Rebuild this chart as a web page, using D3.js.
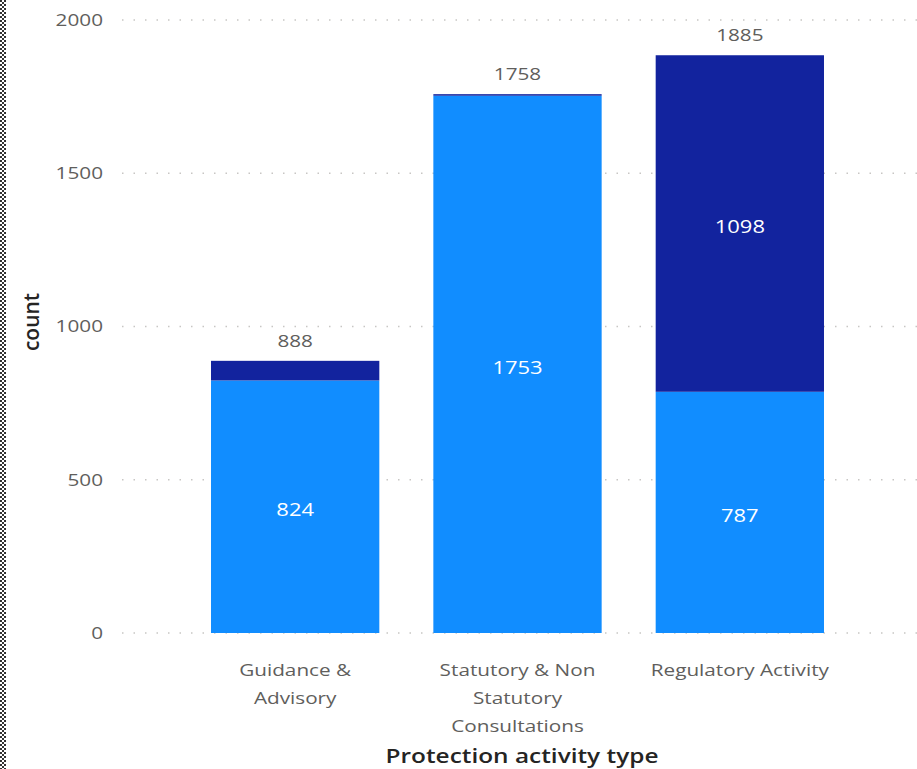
<!DOCTYPE html>
<html><head><meta charset="utf-8">
<script src="https://cdn.jsdelivr.net/npm/d3@7"></script>
<style>body{margin:0;background:#fff;} svg{display:block;}</style>
</head><body>
<svg id="c" width="917" height="769"></svg>
<script>
const categories = [["Guidance &","Advisory"],["Statutory & Non","Statutory","Consultations"],["Regulatory Activity"]];
const catKeys = ["Guidance & Advisory","Statutory & Non Statutory Consultations","Regulatory Activity"];
const seriesLight = [824, 1753, 787];
const seriesDark = [64, 5, 1098];
const yTicks = [0, 500, 1000, 1500, 2000];
const colors = ["#118DFF", "#12239E"];

const SX = 1.22;
const svg = d3.select("#c");
const font = "'Open Sans', 'Segoe UI', sans-serif";
const x = d3.scaleBand().domain(catKeys).range([184, 851]).paddingInner(0.243).paddingOuter(0.1215);
const y = d3.scaleLinear().domain([0, 2000]).range([633, 20]);
const place = (px, py) => `translate(${px},${py}) scale(${SX},1)`;

// left border
[1,3,5].forEach((bx,i)=>{
  svg.append("line").attr("x1",bx).attr("x2",bx).attr("y1",0).attr("y2",769)
    .attr("stroke","#333").attr("stroke-width",2).attr("stroke-dasharray","2,2")
    .attr("stroke-dashoffset", i===1 ? 2 : 0);
});

// y axis labels
const yAxis = d3.axisLeft(y).tickValues(yTicks).tickSize(0).tickPadding(0).tickFormat(d3.format("d"));
const gy = svg.append("g").call(yAxis);
gy.select(".domain").remove();
gy.selectAll(".tick").attr("transform", d => place(103, y(d)));
gy.selectAll("text").attr("font-family",font).attr("font-size",17).attr("fill","#605E5C").attr("dy","0.35em");
// gridlines
svg.append("g").selectAll("line").data(yTicks).join("line")
  .attr("x1",122).attr("x2",917).attr("y1",d=>y(d)).attr("y2",d=>y(d))
  .attr("stroke","#C8C6C4").attr("stroke-width",1.5).attr("stroke-dasharray","1.5,10");

// stacked bars
const rows = catKeys.map((k,i)=>({key:k, light:seriesLight[i], dark:seriesDark[i]}));
const stack = d3.stack().keys(["light","dark"])(rows);
const bars = svg.append("g");
stack.forEach((s,si)=>{
  bars.selectAll(null).data(s).join("rect")
    .attr("x",d=>x(d.data.key)).attr("width",x.bandwidth())
    .attr("y",d=>y(d[1])).attr("height",d=>y(d[0])-y(d[1]))
    .attr("fill",colors[si]);
  bars.selectAll(null).data(s.filter(d=>y(d[0])-y(d[1])>40)).join("text")
    .attr("transform",d=>place(x(d.data.key)+x.bandwidth()/2, (y(d[0])+y(d[1]))/2 + 3))
    .attr("dy","0.35em").attr("text-anchor","middle")
    .attr("font-family",font).attr("font-size",18).attr("font-weight",500).attr("fill","#fff")
    .text(d=>d.data[s.key]);
});
// totals
svg.append("g").selectAll("text").data(rows).join("text")
  .attr("transform",d=>place(x(d.key)+x.bandwidth()/2, y(d.light+d.dark)-14))
  .attr("text-anchor","middle").attr("font-family",font).attr("font-size",17).attr("fill","#605E5C")
  .text(d=>d.light+d.dark);

// x labels
const gx = svg.append("g");
catKeys.forEach((k,i)=>{
  const t = gx.append("text").attr("transform",place(x(k)+x.bandwidth()/2, 676))
    .attr("text-anchor","middle").attr("font-family",font).attr("font-size",17).attr("fill","#605E5C");
  categories[i].forEach((line,j)=>t.append("tspan").attr("x",0).attr("dy",j?28:0).text(line));
});

// axis titles
svg.append("text").attr("transform","translate(39,322) rotate(-90)").attr("text-anchor","middle")
  .attr("font-family",font).attr("font-size",21).attr("font-weight",600).attr("fill","#252423").text("count");
svg.append("text").attr("transform",place(522,763)).attr("text-anchor","middle")
  .attr("font-family",font).attr("font-size",20).attr("font-weight",600).attr("fill","#252423").text("Protection activity type");
</script>
</body></html>
